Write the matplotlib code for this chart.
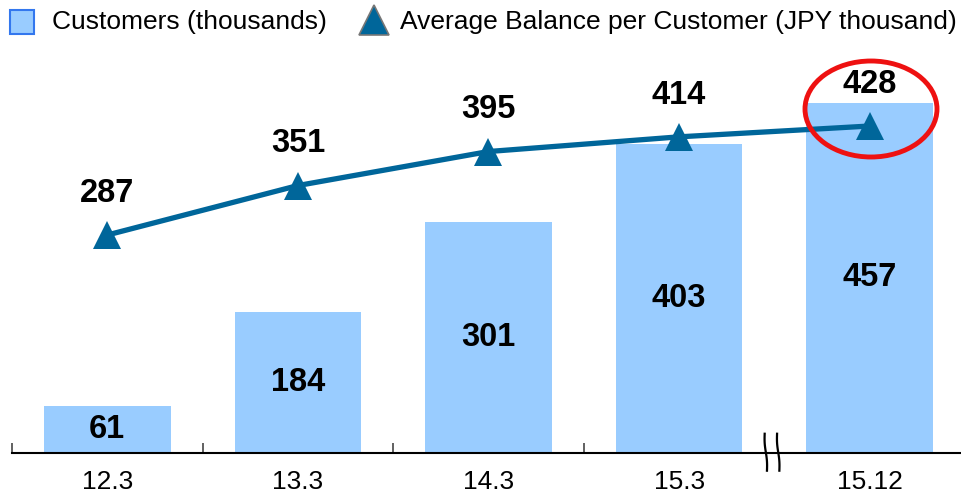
import matplotlib
matplotlib.use("Agg")
import matplotlib.pyplot as plt
from matplotlib.patches import Ellipse
from matplotlib.lines import Line2D
import numpy as np

plt.rcParams['font.family'] = ['Liberation Sans', 'DejaVu Sans']

categories = ["12.3", "13.3", "14.3", "15.3", "15.12"]
customers = [61, 184, 301, 403, 457]
avg_balance = [287, 351, 395, 414, 428]
legend_labels = ["Customers (thousands)", "Average Balance per Customer (JPY thousand)"]

bar_color = "#99CCFF"
line_color = "#00669A"

W, H = 962, 500
fig = plt.figure(figsize=(W / 100, H / 100), dpi=100)
ax = fig.add_axes([12 / W, 47 / H, 953 / W, 393 / H])
ax2 = ax.twinx()

x = np.arange(len(categories))
ax.bar(x, customers, width=0.665, color=bar_color, zorder=1)
ax.set_xlim(-0.5, 4.5)
ax.set_ylim(0, 513)
ax2.set_ylim(5, 513.4)

for xi, v in zip(x, customers):
    ax.text(xi, v / 2, str(v), ha="center", va="center", fontsize=23.5,
            fontweight="bold", color="black")

ax2.plot(x, avg_balance, color=line_color, lw=3.8, marker="^", ms=20,
         markeredgewidth=0, zorder=3)
for xi, v in zip(x, avg_balance):
    ax2.annotate(str(v), (xi, v), xytext=(0, 30), textcoords="offset points",
                 ha="center", va="center", fontsize=23.5, fontweight="bold")

# spines and ticks
for a in (ax, ax2):
    for s in ("top", "right", "left"):
        a.spines[s].set_visible(False)
    a.set_yticks([])
ax2.spines["bottom"].set_visible(False)
ax.spines["bottom"].set_linewidth(1.5)
ax.set_xticks(x)
ax.set_xticklabels(categories, fontsize=19)
ax.tick_params(axis="x", length=0, pad=12)
ax.set_xticks([-0.5, 0.5, 1.5, 2.5], minor=True)
ax.tick_params(axis="x", which="minor", direction="in", length=7, width=1.3,
               color="#555555")

# axis break marks
for xb in (3.455, 3.52):
    t = np.linspace(0, 1, 30)
    xs = xb - 0.006 * np.sin((t - 0.5) * 2 * np.pi) * 0.5 - (t - 0.5) * 0.012
    ys = -0.045 + t * 0.094
    ax.plot(xs, ys, transform=ax.get_xaxis_transform(), color="black",
            lw=1.6, clip_on=False, zorder=5)

# red ellipse highlight
ell = Ellipse((871 / W, 1 - 109 / H), width=132 / W, height=96 / H,
              transform=fig.transFigure, fill=False, edgecolor="#EE1111",
              lw=3.5, zorder=6)
fig.add_artist(ell)

# manual legend
ly = 1 - 22 / H
fig.add_artist(Line2D([22 / W], [ly], transform=fig.transFigure, linestyle="none",
                      marker="s", ms=17.5, markerfacecolor=bar_color,
                      markeredgecolor="#3377EE", markeredgewidth=1.5))
fig.text(52 / W, ly, legend_labels[0], fontsize=19, ha="left", va="center")
fig.add_artist(Line2D([374 / W], [1 - 20 / H], transform=fig.transFigure,
                      linestyle="none", marker="^", ms=21, markerfacecolor=line_color,
                      markeredgecolor="#777777", markeredgewidth=1.2))
fig.text(400 / W, ly, legend_labels[1], fontsize=19, ha="left", va="center")

fig.savefig("out.png", dpi=100)
